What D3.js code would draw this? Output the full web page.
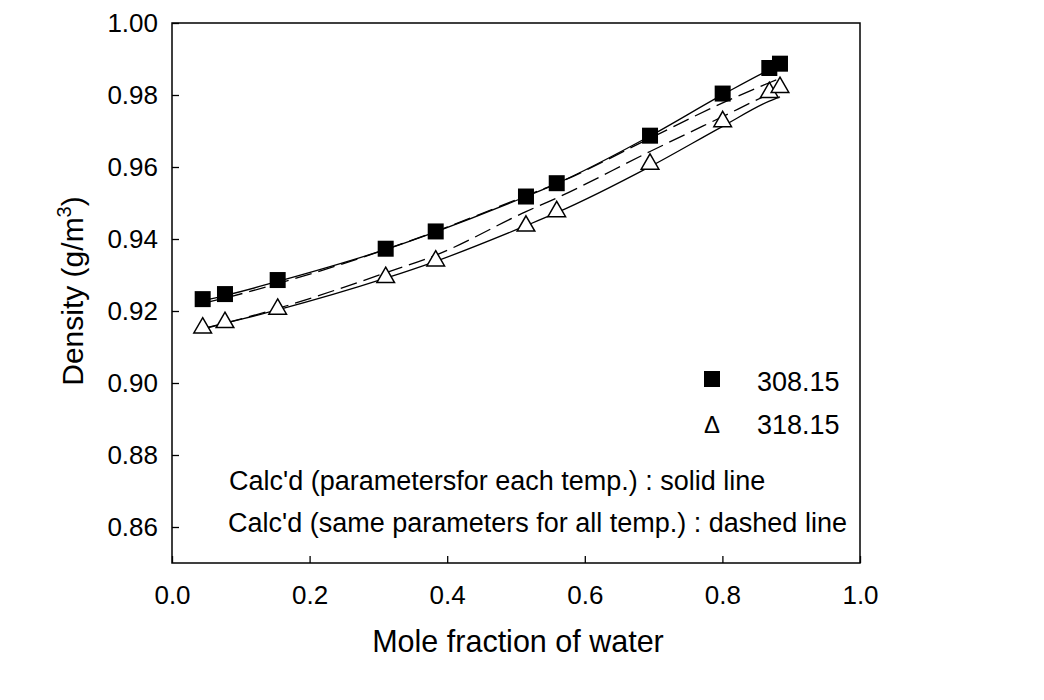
<!DOCTYPE html>
<html>
<head>
<meta charset="utf-8">
<script src="https://cdn.jsdelivr.net/npm/d3@7"></script>
<style>
body{margin:0;background:#fff;}
text{font-family:Arial,"Liberation Sans",sans-serif;fill:#000;}
</style>
</head>
<body>
<div id="chart"></div>
<script>
// mole fraction of water (measured points)
var xWater=[0.0446,0.0770,0.1536,0.3106,0.3833,0.5145,0.5592,0.6948,0.8004,0.8682,0.8837];
// measured densities
var dens308=[0.9233,0.9247,0.9286,0.9373,0.9421,0.9518,0.9555,0.9687,0.9804,0.9875,0.9887];
var dens318=[0.9156,0.9171,0.9208,0.9296,0.9342,0.9439,0.9479,0.9611,0.9729,0.9810,0.9824];
// calculated curves
var solid308=[0.9229,0.9243,0.9282,0.9371,0.9420,0.9518,0.9554,0.9686,0.9801,0.9870,0.9884];
var dashed308=[0.9221,0.9236,0.9276,0.9371,0.9421,0.9520,0.9554,0.9680,0.9778,0.9834,0.9846];
var solid318=[0.9151,0.9166,0.9203,0.9291,0.9338,0.9437,0.9473,0.9601,0.9713,0.9783,0.9795];
var dashed318=[0.9150,0.9166,0.9207,0.9306,0.9355,0.9476,0.9514,0.9643,0.9740,0.9802,0.9814];

var xTicks=[0.0,0.2,0.4,0.6,0.8,1.0];
var yTicks=[0.86,0.88,0.90,0.92,0.94,0.96,0.98,1.00];

var W=1044,H=700;
var plotL=172,plotR=860,plotT=23,plotB=563;

var svg=d3.select("#chart").append("svg")
	.attr("width",W)
	.attr("height",H);

var x=d3.scaleLinear().domain([0,1]).range([plotL,plotR]);
var y=d3.scaleLinear().domain([0.85,1.00]).range([plotB,plotT]);

//frame
svg.append("rect")
	.attr("x",plotL).attr("y",plotT)
	.attr("width",plotR-plotL).attr("height",plotB-plotT)
	.attr("fill","none").attr("stroke","#000").attr("stroke-width",1.5);

//axes, ticks inside
var xAxis=svg.append("g")
	.attr("transform","translate(0,"+plotB+")")
	.call(d3.axisBottom(x).tickValues(xTicks).tickSizeInner(-7).tickSizeOuter(0).tickPadding(23).tickFormat(d3.format(".1f")));
var yAxis=svg.append("g")
	.attr("transform","translate("+plotL+",0)")
	.call(d3.axisLeft(y).tickValues(yTicks).tickSizeInner(-7).tickSizeOuter(0).tickPadding(14).tickFormat(d3.format(".2f")));
[xAxis,yAxis].forEach(function(a){
	a.select(".domain").remove();
	a.selectAll("line").attr("stroke","#000").attr("stroke-width",1.3);
	a.selectAll("text").attr("font-size",26).attr("font-family",'Arial,"Liberation Sans",sans-serif');
});

//calculated lines
var line=d3.line()
	.x(function(d){return x(d[0]);})
	.y(function(d){return y(d[1]);})
	.curve(d3.curveMonotoneX);
function pairs(vals){
	return xWater.map(function(v,i){return [v,vals[i]];});
}
[[solid308,null],[dashed308,"17,7"],[solid318,null],[dashed318,"17,7"]].forEach(function(c){
	svg.append("path")
		.attr("d",line(pairs(c[0])))
		.attr("fill","none")
		.attr("stroke","#000")
		.attr("stroke-width",1.3)
		.attr("stroke-dasharray",c[1]);
});

//measured points
svg.selectAll(".sq").data(pairs(dens308)).enter().append("rect")
	.attr("class","sq")
	.attr("x",function(d){return x(d[0])-8;})
	.attr("y",function(d){return y(d[1])-8;})
	.attr("width",16).attr("height",16)
	.attr("fill","#000");
var tri=d3.symbol().type(d3.symbolTriangle).size(135);
svg.selectAll(".tri").data(pairs(dens318)).enter().append("path")
	.attr("class","tri")
	.attr("d",tri)
	.attr("transform",function(d){return "translate("+x(d[0])+","+(y(d[1])+1)+")";})
	.attr("fill","#fff")
	.attr("stroke","#000")
	.attr("stroke-width",1.5);

//legend
svg.append("rect").attr("x",704).attr("y",371).attr("width",16).attr("height",16).attr("fill","#000");
svg.append("text").attr("x",757).attr("y",391).attr("font-size",27).text("308.15");
svg.append("text").attr("x",704).attr("y",433).attr("font-size",24)
	.attr("font-family",'"Liberation Serif","DejaVu Serif",serif').text("\u0394");
svg.append("text").attr("x",757).attr("y",434).attr("font-size",27).text("318.15");

svg.append("text").attr("x",229).attr("y",490).attr("font-size",27).text("Calc'd (parametersfor each temp.) : solid line");
svg.append("text").attr("x",228).attr("y",532).attr("font-size",27).text("Calc'd (same parameters for all temp.) : dashed line");

//axis titles
svg.append("text").attr("x",518).attr("y",652).attr("text-anchor","middle").attr("font-size",30.5).text("Mole fraction of water");
var yt=svg.append("text")
	.attr("transform","translate(83,291) rotate(-90)")
	.attr("text-anchor","middle")
	.attr("font-size",30);
yt.append("tspan").text("Density (g/m");
yt.append("tspan").attr("font-size",20).attr("dy",-12).text("3");
yt.append("tspan").attr("dy",12).text(")");
</script>
</body>
</html>
